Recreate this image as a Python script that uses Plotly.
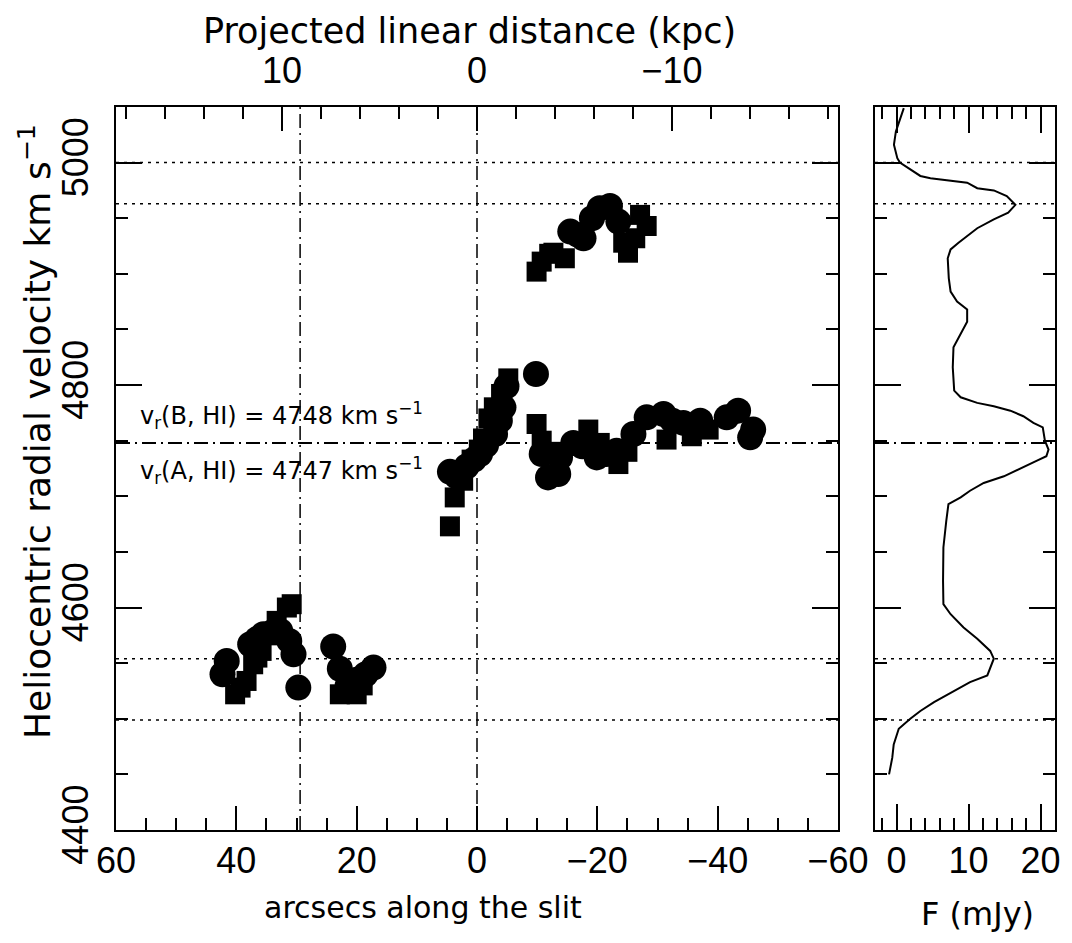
import plotly.graph_objects as go

# ---------------- data ----------------
# Long-slit velocities (arcsec along slit, heliocentric velocity km/s)
circle_arcsec = [42.3, 41.6, 37.7, 36.5, 35.5, 34.0, 32.7, 31.2, 30.5, 29.7,
                 23.9, 22.8, 21.5, 20.0, 18.5, 17.2,
                 4.5, 3.4, 1.7, 0.5, -0.5, -1.5, -3.0, -3.8, -4.4, -4.9,
                 -9.8,
                 -10.75, -11.8, -13.5, -13.8, -16.0, -17.5, -19.9, -21.5, -23.2,
                 -26.0, -28.2, -31.0, -32.5, -34.3, -37.1, -41.5, -43.4, -45.4, -45.9,
                 -15.5, -16.8, -17.7, -19.1, -20.4, -22.1, -23.5]
circle_vel = [4540, 4552, 4567, 4572, 4576, 4578, 4579, 4570, 4558, 4528,
              4565, 4545, 4530, 4535, 4540, 4546,
              4722, 4718, 4727, 4733, 4738, 4746, 4756, 4768, 4780, 4799,
              4810,
              4738, 4717, 4720, 4735, 4748, 4745, 4735, 4738, 4741,
              4756, 4771, 4774, 4768, 4766, 4768, 4771, 4777, 4753, 4760,
              4938, 4935, 4932, 4950, 4959, 4961, 4947]

square_arcsec = [40.2, 39.3, 38.3, 37.2, 36.5, 35.8, 34.4, 33.3, 31.6, 30.8,
                 22.8, 20.0, 19.0,
                 4.5, 3.7, 2.3, 0.9, -0.3, -1.0, -1.9, -2.8, -4.0, -5.2,
                 -9.9, -10.75, -12.5, -18.5, -20.4, -23.5, -25.0, -31.5, -35.7, -38.5,
                 -9.9, -10.75, -12.0, -12.7, -14.6, -24.3, -25.1, -26.3, -27.1, -28.2]
square_vel = [4522, 4528, 4534, 4549, 4555, 4561, 4575, 4588, 4600, 4603,
              4522, 4522, 4530,
              4673, 4699, 4714, 4733, 4742, 4752, 4770, 4780, 4792, 4806,
              4765, 4750, 4740, 4760, 4748, 4729, 4740, 4751, 4754, 4760,
              4902, 4911, 4918, 4919, 4914, 4928, 4919, 4932, 4953, 4943]

# HI profile (flux in mJy vs velocity)
flux_vel = [5049, 5040, 5028, 5016, 5004, 5000, 4995, 4988, 4986, 4984, 4982, 4977,
            4975, 4970, 4962, 4955, 4949, 4941, 4932, 4928, 4922, 4914, 4896, 4884,
            4875, 4868, 4857, 4846, 4834, 4816, 4795, 4789, 4784, 4781, 4777, 4772,
            4766, 4762, 4750, 4742, 4736, 4732, 4726, 4718, 4712, 4705, 4699, 4693,
            4678, 4654, 4624, 4603, 4594, 4582, 4572, 4561, 4554, 4546, 4539, 4533,
            4525, 4515, 4507, 4500, 4491, 4477, 4465, 4450]
flux_mjy = [1.0, 0.55, -0.1, -0.37, 0.1, 0.46, 1.6, 3.3, 4.7, 7.5, 9.8, 11.2,
            13.5, 15.3, 16.5, 15.5, 13.5, 11.2, 9.3, 8.6, 7.5, 7.1, 7.25, 7.5,
            8.4, 9.8, 9.8, 8.9, 7.9, 7.8, 8.0, 8.9, 11.2, 13.5, 15.8, 17.6,
            19.0, 20.3, 20.6, 21.1, 20.8, 19.5, 17.6, 14.9, 12.1, 10.2, 8.9, 7.2,
            6.9, 6.5, 6.45, 6.5, 7.5, 9.3, 11.2, 13.0, 13.5, 13.0, 12.6, 10.2,
            7.9, 5.2, 3.3, 1.9, 0.3, -0.4, -0.6, -1.05]

dotted_levels = [5000, 4963, 4554, 4499]   # HI profile edges / peaks
hi_systemic = 4748                          # dash-dot horizontal line
slit_marks = [0, 29.4]                      # dash-dot vertical lines (arcsec)

x_range = [60, -60]
kpc_range = [18.52, -18.52]
y_range = [4400, 5050]
flux_range = [-3, 22]

label_B = "v<sub>r</sub>(B, HI) = 4748 km s<sup>−1</sup>"
label_A = "v<sub>r</sub>(A, HI) = 4747 km s<sup>−1</sup>"

# ---------------- figure ----------------
OFF = 8                      # page body margin
W, H = 1072 - OFF, 943 - OFF


def px(sx):
    return (sx - OFF) / W


def py(sy):
    return 1 - (sy - OFF) / H


FONT = "Liberation Sans"
TFONT = "DejaVu Sans"
TICKFONT = dict(family=FONT, size=36, color="black")

main_dom_x = [px(116), px(838)]
side_dom_x = [px(875), px(1055)]
dom_y = [py(830), py(107)]

fig = go.Figure()
fig.add_trace(go.Scatter(x=square_arcsec, y=square_vel, mode="markers",
                         marker=dict(symbol="square", size=20, color="black", line=dict(width=0)),
                         xaxis="x", yaxis="y", hoverinfo="skip"))
fig.add_trace(go.Scatter(x=circle_arcsec, y=circle_vel, mode="markers",
                         marker=dict(symbol="circle", size=26, color="black", line=dict(width=0)),
                         xaxis="x", yaxis="y", hoverinfo="skip"))
fig.add_trace(go.Scatter(x=flux_mjy, y=flux_vel, mode="lines",
                         line=dict(color="black", width=2),
                         xaxis="x2", yaxis="y2", hoverinfo="skip"))
# invisible helper so the top (kpc) axis is drawn
fig.add_trace(go.Scatter(x=kpc_range, y=y_range, mode="lines", line=dict(width=0),
                         opacity=0, xaxis="x3", yaxis="y", hoverinfo="skip"))

DOT = "3px,5px"
DASHDOT = "14px,5px,2px,5px"
shapes = []
for lv in dotted_levels:
    for xr, yr in (("x domain", "y"), ("x2 domain", "y2")):
        shapes.append(dict(type="line", xref=xr, yref=yr, x0=0, x1=1, y0=lv, y1=lv,
                           line=dict(color="black", width=1.5, dash=DOT), layer="below"))
for xr, yr in (("x domain", "y"), ("x2 domain", "y2")):
    shapes.append(dict(type="line", xref=xr, yref=yr, x0=0, x1=1, y0=hi_systemic, y1=hi_systemic,
                       line=dict(color="black", width=2, dash=DASHDOT), layer="below"))
for xv in slit_marks:
    shapes.append(dict(type="line", xref="x", yref="y domain", x0=xv, x1=xv, y0=0, y1=1,
                       line=dict(color="black", width=1.5, dash=DASHDOT), layer="below"))

common = dict(showgrid=False, zeroline=False, tickcolor="black", tickwidth=1.5,
              ticks="inside", tickfont=TICKFONT, showline=True, linecolor="black", linewidth=2)


def minor(t0, dt):
    return dict(tick0=t0, dtick=dt, ticklen=12, ticks="inside", tickcolor="black", tickwidth=1.5)


fig.update_layout(
    width=W, height=H, margin=dict(l=0, r=0, t=0, b=0, autoexpand=False),
    paper_bgcolor="white", plot_bgcolor="white", showlegend=False,
    shapes=shapes,
    xaxis=dict(domain=main_dom_x, range=x_range, anchor="y", tickmode="linear", tick0=0, dtick=20,
               ticklen=24, mirror=False, ticklabelstandoff=-2, minor=minor(0, 5), **common),
    xaxis3=dict(overlaying="x", side="top", anchor="y", range=kpc_range, tickmode="linear",
                tick0=0, dtick=10, ticklen=24, showgrid=False, zeroline=False,
                showline=True, linecolor="black", linewidth=2,
                ticks="inside", tickcolor="black", tickwidth=1.5, tickfont=TICKFONT,
                ticklabelstandoff=8, minor=minor(0, 2)),
    yaxis=dict(domain=dom_y, range=y_range, anchor="x", tickmode="linear", tick0=4400, dtick=200,
               ticklen=26, mirror="ticks", tickangle=-90, ticklabelstandoff=12,
               minor=minor(4400, 50), **common),
    xaxis2=dict(domain=side_dom_x, range=flux_range, anchor="y2", tickmode="linear", tick0=0, dtick=10,
                ticklen=26, mirror="ticks", ticklabelstandoff=-2, minor=minor(0, 2), **common),
    yaxis2=dict(domain=dom_y, matches="y", anchor="x2", tickmode="linear", tick0=4400, dtick=200,
                ticklen=26, mirror="ticks", showticklabels=False, minor=minor(4400, 50), **common),
)

ann = [
    dict(text="Projected linear distance (kpc)", x=px(469), y=py(31),
         font=dict(family=TFONT, size=35, color="black")),
    dict(text="arcsecs along the slit", x=px(423), y=py(907),
         font=dict(family=TFONT, size=30, color="black")),
    dict(text="F (mJy)", x=px(977), y=py(914),
         font=dict(family=TFONT, size=32, color="black")),
    dict(text="Heliocentric radial velocity km s<sup>−1</sup>", x=px(35), y=py(432), textangle=-90,
         font=dict(family=TFONT, size=36, color="black")),
]
for a in ann:
    fig.add_annotation(xref="paper", yref="paper", showarrow=False, xanchor="center", yanchor="middle", **a)

SMALL = dict(family=TFONT, size=24, color="black")
fig.add_annotation(text=label_B, xref="x", yref="y", x=56.3, y=4773, xanchor="left", yanchor="middle",
                   showarrow=False, font=SMALL)
fig.add_annotation(text=label_A, xref="x", yref="y", x=56.3, y=4723.5, xanchor="left", yanchor="middle",
                   showarrow=False, font=SMALL)

fig.write_html("out.html", config={"displayModeBar": False})
